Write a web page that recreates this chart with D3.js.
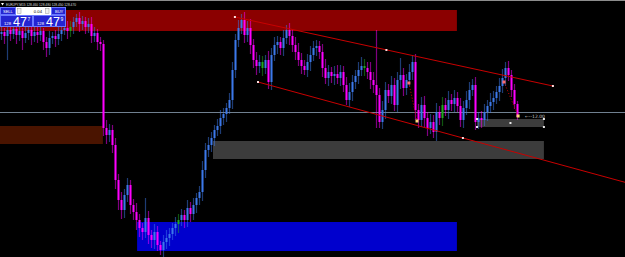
<!DOCTYPE html>
<html>
<head>
<meta charset="utf-8">
<script src="https://cdn.jsdelivr.net/npm/d3@7"></script>
<style>
  html, body { margin: 0; padding: 0; background: #000; overflow: hidden; }
  svg { display: block; }
</style>
</head>
<body>
<svg id="chart"></svg>
<script>
const W = 625, H = 257;

// ---- data (EURJPY M15) ----
const symbol = 'EURJPY,M15';
const quote = ['128.460', '128.480', '128.450', '128.470'];
const lotSize = '0.04';
const bidParts = ['128', '47', '7'];
const askParts = ['128', '47', '9'];

const firstOpen = 129.30;
const closes = [
  129.32, 129.28, 129.34, 129.30, 129.35, 129.29, 129.33, 129.26, 129.31, 129.34,
  129.28, 129.32, 129.29, 129.33, 129.22, 129.16, 129.26, 129.28, 129.25, 129.30,
  129.34, 129.36, 129.33, 129.37, 129.42, 129.46, 129.40, 129.43, 129.37, 129.40,
  129.28, 129.31, 129.22, 129.20, 128.36, 128.29, 128.34, 128.19, 127.84, 127.64,
  127.54, 127.69, 127.79, 127.59, 127.52, 127.44, 127.36, 127.32, 127.46, 127.29,
  127.24, 127.32, 127.19, 127.14, 127.22, 127.26, 127.30, 127.36, 127.40, 127.44,
  127.49, 127.44, 127.56, 127.50, 127.59, 127.66, 127.72, 127.94, 128.14, 128.19,
  128.26, 128.34, 128.38, 128.46, 128.50, 128.56, 128.64, 128.94, 129.24, 129.36,
  129.44, 129.29, 129.36, 129.19, 129.04, 128.98, 129.02, 128.96, 129.04, 128.82,
  129.09, 129.19, 129.22, 129.16, 129.26, 129.34, 129.28, 129.19, 129.12, 129.04,
  128.98, 128.94, 129.02, 129.09, 129.16, 129.18, 129.12, 128.96, 128.86, 128.92,
  128.88, 128.90, 128.86, 128.92, 128.79, 128.64, 128.72, 128.82, 128.88, 128.94,
  128.98, 128.96, 128.92, 128.84, 128.79, 128.69, 128.42, 128.54, 128.74, 128.68,
  128.79, 128.59, 128.84, 128.89, 128.76, 128.84, 128.92, 129.02, 128.54, 128.44,
  128.59, 128.46, 128.36, 128.42, 128.32, 128.52, 128.46, 128.59, 128.54, 128.64,
  128.60, 128.66, 128.58, 128.44, 128.56, 128.64, 128.74, 128.79, 128.42, 128.46,
  128.44, 128.52, 128.58, 128.62, 128.66, 128.72, 128.78, 128.86, 128.96, 128.89,
  128.74, 128.60, 128.47
];
// wick lengths above / below the body, in pips (0.01)
const wickUp = [
  6, 4, 5, 8, 4, 7, 5, 3, 6, 5,
  4, 7, 5, 6, 3, 5, 7, 4, 6, 8,
  5, 4, 7, 6, 5, 4, 6, 5, 4, 6,
  7, 6, 4, 5, 4, 8, 6, 5, 7, 6,
  8, 6, 7, 5, 6, 9, 6, 5, 20, 7,
  5, 8, 6, 4, 7, 8, 6, 5, 7, 6,
  6, 5, 8, 6, 7, 5, 6, 9, 7, 8,
  6, 5, 7, 8, 6, 5, 7, 8, 6, 8,
  6, 8, 7, 9, 6, 8, 7, 6, 5, 9,
  7, 8, 6, 5, 8, 5, 7, 6, 8, 9,
  7, 6, 8, 9, 7, 6, 5, 8, 9, 7,
  5, 8, 9, 7, 6, 8, 9, 7, 6, 8,
  9, 7, 6, 10, 8, 55, 7, 9, 8, 6,
  9, 7, 8, 17, 7, 6, 8, 7, 8, 6,
  8, 9, 6, 8, 7, 9, 6, 8, 7, 9,
  6, 8, 6, 8, 7, 9, 8, 6, 8, 6,
  7, 8, 6, 9, 7, 6, 8, 9, 6, 7,
  5, 6, 3
];
const wickDown = [
  6, 8, 24, 7, 5, 9, 6, 12, 5, 7,
  9, 6, 8, 6, 8, 9, 7, 6, 8, 6,
  7, 5, 8, 6, 7, 5, 8, 6, 7, 6,
  7, 6, 8, 7, 8, 9, 7, 8, 9, 10,
  9, 8, 7, 9, 8, 10, 9, 8, 6, 9,
  8, 9, 6, 5, 8, 7, 8, 6, 8, 9,
  6, 8, 7, 8, 6, 8, 7, 9, 8, 7,
  7, 8, 6, 8, 7, 8, 6, 9, 8, 7,
  6, 8, 7, 9, 8, 9, 7, 8, 6, 7,
  8, 6, 9, 7, 8, 6, 9, 7, 8, 6,
  8, 5, 7, 9, 6, 8, 7, 9, 6, 8,
  7, 9, 6, 8, 7, 5, 7, 9, 7, 8,
  6, 8, 7, 9, 8, 33, 6, 7, 9, 7,
  8, 6, 7, 9, 8, 7, 6, 8, 10, 8,
  7, 9, 8, 6, 6, 9, 7, 8, 6, 9,
  7, 8, 6, 7, 8, 7, 9, 6, 8, 7,
  8, 6, 9, 7, 8, 6, 9, 7, 8, 6,
  7, 5, 3
];
const greenBars = [23, 59, 87, 121, 147];

// zones: bar index span and price span
const zoneNames  = ['supply', 'oldDemand', 'flip', 'demand', 'entry'];
const zoneFrom   = [-1, -1, 70.5, 45.2, 158.5];
const zoneTo     = [151.8, 33.8, 180.8, 151.8, 180.8];
const zoneTop    = [129.54, 128.38, 128.23, 127.42, 128.45];
const zoneBottom = [129.33, 128.20, 128.05, 127.13, 128.37];

// channel lines as [bar index, price]
const channelUpper = [[77.8, 129.47], [128.3, 129.14], [183.8, 128.78]];
const channelLower = [[85.5, 128.82], [153.8, 128.26]];
const levelPrice = 128.52;

// closed trades
const tradeOpenIdx = [135.8, 167.5];
const tradeOpenPrice = [128.81, 128.82];
const tradeCloseIdx = [138.5, 172.2];
const tradeClosePrice = [128.43, 128.48];
const orderLabel = '\u2190--12.00';

// ---- styles ----
const COLORS = {
  bull: '#3c78ea',
  bear: '#ff00ff',
  doji: '#1faa1f',
  zone: { supply: '#8b0000', oldDemand: '#4a1400', flip: '#3c3c3c', demand: '#0000cd', entry: '#3c3c3c' },
  channel: '#c80000',
  level: '#708090',
  panel: '#2424d2',
  panelEdge: '#6a78ff'
};
const FONT = '"Liberation Sans", Arial, sans-serif';

const svg = d3.select('#chart').attr('width', W).attr('height', H);
svg.append('rect').attr('width', W).attr('height', H).attr('fill', '#000');

const x = d3.scaleLinear().domain([0, closes.length - 1]).range([1.5, 517.5]);
const y = d3.scaleLinear().domain([127.07, 129.64]).range([H, 0]);

const bars = closes.map((c, i) => {
  const o = i === 0 ? firstOpen : closes[i - 1];
  return {
    i, o, c,
    h: Math.max(o, c) + wickUp[i] / 100,
    l: Math.min(o, c) - wickDown[i] / 100
  };
});

function barColor(d) {
  if (greenBars.includes(d.i)) return COLORS.doji;
  return d.c >= d.o ? COLORS.bull : COLORS.bear;
}

// top window border
svg.append('line').attr('x1', 0).attr('x2', W).attr('y1', 0.5).attr('y2', 0.5)
  .attr('stroke', '#8c8c8c').attr('stroke-width', 1);

// ---- zones ----
const zones = zoneNames.map((n, k) => ({ n, k }));
svg.append('g').selectAll('rect').data(zones).join('rect')
  .attr('x', d => Math.max(0, x(zoneFrom[d.k])))
  .attr('y', d => y(zoneTop[d.k]))
  .attr('width', d => x(zoneTo[d.k]) - Math.max(0, x(zoneFrom[d.k])))
  .attr('height', d => y(zoneBottom[d.k]) - y(zoneTop[d.k]))
  .attr('fill', d => COLORS.zone[d.n]);

// level line
svg.append('line').attr('x1', 0).attr('x2', W)
  .attr('y1', Math.round(y(levelPrice)) + 0.5).attr('y2', Math.round(y(levelPrice)) + 0.5)
  .attr('stroke', COLORS.level).attr('stroke-width', 1);

// ---- candles ----
const cg = svg.append('g');
cg.selectAll('line.wick').data(bars).join('line')
  .attr('class', 'wick')
  .attr('x1', d => x(d.i)).attr('x2', d => x(d.i))
  .attr('y1', d => y(d.h)).attr('y2', d => y(d.l))
  .attr('stroke', barColor).attr('stroke-opacity', 0.5).attr('stroke-width', 1.2);
cg.selectAll('rect.body').data(bars).join('rect')
  .attr('class', 'body')
  .attr('x', d => x(d.i) - 1)
  .attr('width', 2)
  .attr('y', d => y(Math.max(d.o, d.c)))
  .attr('height', d => Math.max(1, Math.abs(y(d.o) - y(d.c))))
  .attr('fill', barColor);

// ---- channel ----
const line = d3.line().x(d => x(d[0])).y(d => y(d[1]));
svg.append('path').attr('d', line([channelUpper[0], channelUpper[2]]))
  .attr('fill', 'none').attr('stroke', COLORS.channel).attr('stroke-width', 1);
const [p0, p1] = channelLower;
const slope = (p1[1] - p0[1]) / (p1[0] - p0[0]);
const edgeIdx = x.invert(W);
svg.append('path').attr('d', line([p0, [edgeIdx, p0[1] + slope * (edgeIdx - p0[0])]]))
  .attr('fill', 'none').attr('stroke', COLORS.channel).attr('stroke-width', 1);

svg.append('g').selectAll('rect').data(channelUpper.concat(channelLower)).join('rect')
  .attr('x', d => x(d[0]) - 1).attr('y', d => y(d[1]) - 1)
  .attr('width', 2).attr('height', 2).attr('fill', '#ffdede');

// ---- entry box markers ----
const eb = zoneNames.indexOf('entry');
const ebCorners = [[zoneFrom[eb], zoneTop[eb]], [zoneTo[eb], zoneTop[eb]],
  [zoneFrom[eb], zoneBottom[eb]], [zoneTo[eb], zoneBottom[eb]],
  [(zoneFrom[eb] + zoneTo[eb]) / 2, (zoneTop[eb] + zoneBottom[eb]) / 2]];
svg.append('g').selectAll('rect').data(ebCorners).join('rect')
  .attr('x', d => x(d[0]) - 1).attr('y', d => y(d[1]) - 1)
  .attr('width', 2).attr('height', 2).attr('fill', '#e8e8e8');

// ---- trades ----
const tg = svg.append('g');
tradeOpenIdx.forEach((oi, k) => {
  tg.append('line')
    .attr('x1', x(oi)).attr('y1', y(tradeOpenPrice[k]))
    .attr('x2', x(tradeCloseIdx[k])).attr('y2', y(tradeClosePrice[k]))
    .attr('stroke', '#d00000').attr('stroke-width', 1).attr('stroke-dasharray', '1,2');
  tg.append('rect').attr('x', x(oi) - 1.5).attr('y', y(tradeOpenPrice[k]) - 1.5)
    .attr('width', 3).attr('height', 3).attr('fill', '#ff6a6a');
  tg.append('rect').attr('x', x(tradeCloseIdx[k]) - 1.5).attr('y', y(tradeClosePrice[k]) - 1.5)
    .attr('width', 3).attr('height', 3).attr('fill', '#ffd27a');
});
svg.append('text')
  .attr('x', x(174.5)).attr('y', y(128.47) + 1)
  .attr('font-family', '"DejaVu Sans", sans-serif').attr('font-size', 4.5).attr('fill', '#c8c8c8')
  .text(orderLabel);

// ---- header ----
svg.append('path').attr('d', 'M1,3 L4,3 L2.5,5.5 Z').attr('fill', '#ffffff');
svg.append('text')
  .attr('x', 6).attr('y', 5.5)
  .attr('font-family', FONT).attr('font-size', 4.2).attr('fill', '#dcdcdc')
  .attr('textLength', 70).attr('lengthAdjust', 'spacingAndGlyphs')
  .text([symbol].concat(quote).join(' '));

// ---- one-click panel ----
const panel = svg.append('g');
function button(x0, y0, w, h) {
  panel.append('rect').attr('x', x0 + 0.5).attr('y', y0 + 0.5).attr('width', w - 1).attr('height', h - 1)
    .attr('fill', COLORS.panel).attr('stroke', COLORS.panelEdge).attr('stroke-width', 1);
}
button(0, 7, 16, 8);
button(51, 7, 15, 8);
panel.append('text').attr('x', 3).attr('y', 12.8).attr('font-family', FONT).attr('font-size', 4)
  .attr('fill', '#fff').text('SELL');
panel.append('text').attr('x', 55).attr('y', 12.8).attr('font-family', FONT).attr('font-size', 4)
  .attr('fill', '#fff').text('BUY');
panel.append('rect').attr('x', 16).attr('y', 7).attr('width', 35).attr('height', 8).attr('fill', '#ffffff');
panel.append('rect').attr('x', 17.5).attr('y', 8.5).attr('width', 3.5).attr('height', 5)
  .attr('fill', '#f0f0f0').attr('stroke', '#999').attr('stroke-width', 0.5);
panel.append('rect').attr('x', 45.5).attr('y', 8.5).attr('width', 3.5).attr('height', 5)
  .attr('fill', '#f0f0f0').attr('stroke', '#999').attr('stroke-width', 0.5);
panel.append('text').attr('x', 42).attr('y', 12.6).attr('text-anchor', 'end')
  .attr('font-family', FONT).attr('font-size', 4.2).attr('fill', '#000').text(lotSize);

function priceBox(x0, parts) {
  button(x0, 15, 33, 12);
  panel.append('text').attr('x', x0 + 4).attr('y', 24.5).attr('font-family', FONT)
    .attr('font-size', 4.2).attr('fill', '#fff').text(parts[0]);
  panel.append('text').attr('x', x0 + 13).attr('y', 25.5).attr('font-family', FONT)
    .attr('font-size', 12.5).attr('fill', '#fff').text(parts[1]);
  panel.append('text').attr('x', x0 + 27.5).attr('y', 20.5).attr('font-family', FONT)
    .attr('font-size', 5).attr('fill', '#fff').text(parts[2]);
}
priceBox(0, bidParts);
priceBox(33, askParts);
</script>
</body>
</html>
